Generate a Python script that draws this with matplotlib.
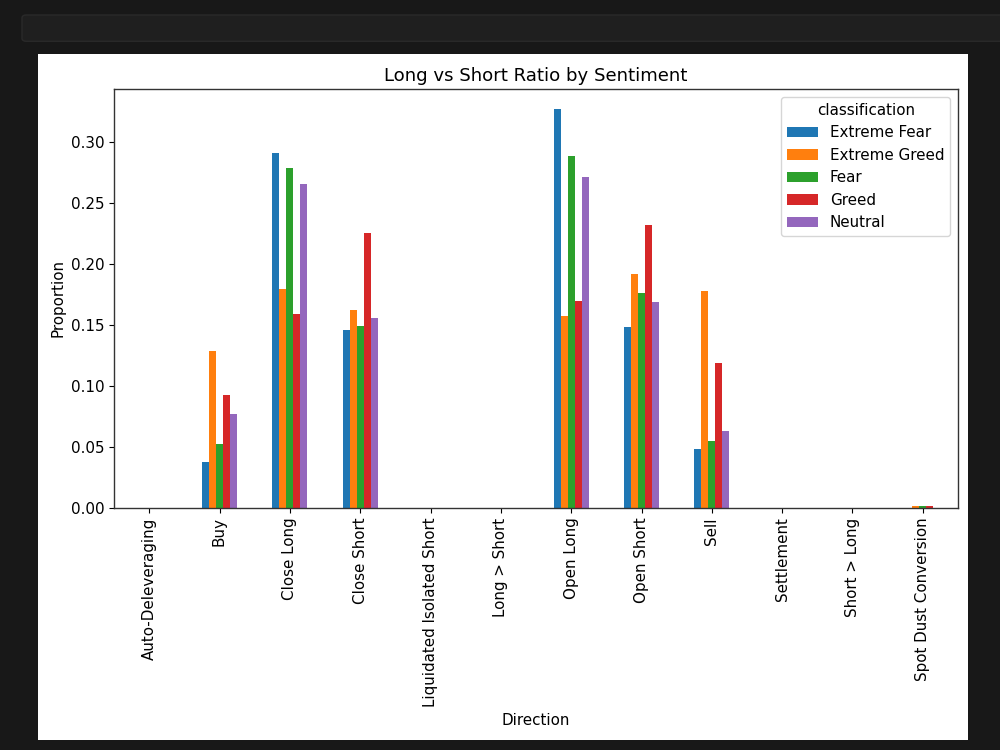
import matplotlib
matplotlib.use("Agg")
import matplotlib.pyplot as plt
from matplotlib.patches import Rectangle, FancyBboxPatch
import numpy as np
import pandas as pd

directions = ["Auto-Deleveraging", "Buy", "Close Long", "Close Short",
              "Liquidated Isolated Short", "Long > Short", "Open Long",
              "Open Short", "Sell", "Settlement", "Short > Long",
              "Spot Dust Conversion"]

extreme_fear  = [0.0001, 0.0377, 0.2910, 0.1459, 0.0000, 0.0000, 0.3270, 0.1484, 0.0484, 0.0000, 0.0000, 0.0000]
extreme_greed = [0.0000, 0.1287, 0.1795, 0.1623, 0.0000, 0.0000, 0.1570, 0.1918, 0.1779, 0.0000, 0.0000, 0.0012]
fear          = [0.0000, 0.0525, 0.2787, 0.1490, 0.0001, 0.0001, 0.2885, 0.1762, 0.0549, 0.0001, 0.0001, 0.0010]
greed         = [0.0000, 0.0926, 0.1590, 0.2254, 0.0000, 0.0000, 0.1697, 0.2320, 0.1189, 0.0000, 0.0000, 0.0012]
neutral       = [0.0000, 0.0770, 0.2656, 0.1557, 0.0000, 0.0000, 0.2713, 0.1689, 0.0631, 0.0000, 0.0000, 0.0000]

df = pd.DataFrame({
    "Extreme Fear": extreme_fear,
    "Extreme Greed": extreme_greed,
    "Fear": fear,
    "Greed": greed,
    "Neutral": neutral,
}, index=pd.Index(directions, name="Direction"))
df.columns.name = "classification"

plt.rcParams["font.size"] = 10.9
plt.rcParams["axes.linewidth"] = 1.0
plt.rcParams["axes.edgecolor"] = "#333333"

fig = plt.figure(figsize=(10, 7.5), dpi=100, facecolor="#181818")
# notebook cell input strip
fig.patches.append(FancyBboxPatch((0.022, 0.945), 0.99, 0.035,
                                  boxstyle="round,pad=0,rounding_size=0.004",
                                  transform=fig.transFigure, facecolor="#1f1f1f",
                                  edgecolor="#2a2a2a", linewidth=1, zorder=-10))
# white output area
fig.patches.append(Rectangle((0.038, 0.013), 0.930, 0.915,
                             transform=fig.transFigure, facecolor="white",
                             edgecolor="none", zorder=-10))

ax = fig.add_axes([0.114, 0.3231, 0.844, 0.5583])
df.plot(kind="bar", ax=ax)
ax.set_title("Long vs Short Ratio by Sentiment", fontsize=13.1)
ax.set_ylabel("Proportion")
ax.set_xlabel("Direction")
ax.legend(title="classification", loc="upper right")

fig.savefig("out.png", dpi=100, facecolor=fig.get_facecolor())
